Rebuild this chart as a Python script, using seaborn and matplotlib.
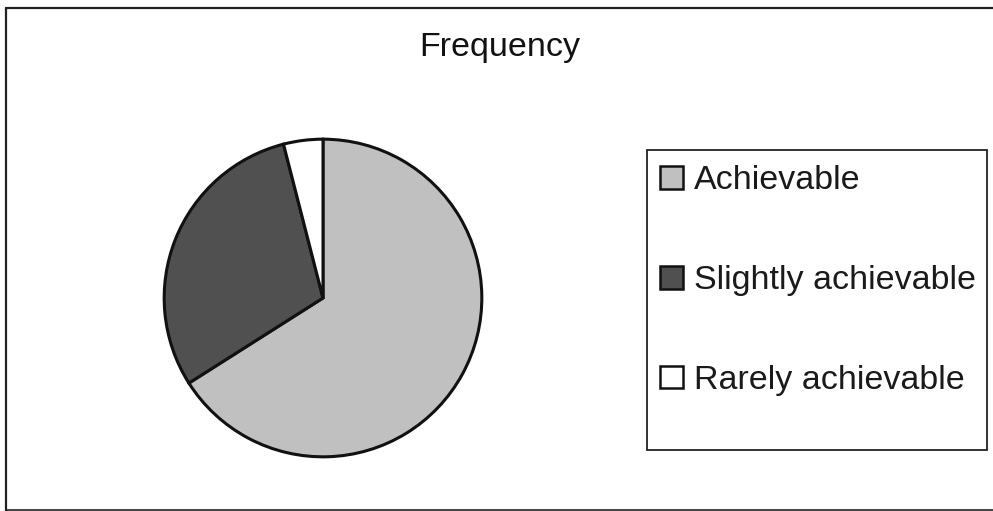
import matplotlib
matplotlib.use("Agg")
import matplotlib.pyplot as plt
from matplotlib.patches import Rectangle
from matplotlib.lines import Line2D
import seaborn as sns

categories = ["Achievable", "Slightly achievable", "Rarely achievable"]
counts = [33, 15, 2]
slice_colors = ["#c0c0c0", "#505050", "#ffffff"]
chart_title = "Frequency"

sns.set_theme(style="white")
plt.rcParams["font.family"] = ["Liberation Sans", "DejaVu Sans"]

W, H = 993, 511
fig = plt.figure(figsize=(W / 100, H / 100), dpi=100)
fig.patch.set_facecolor("white")

# chart frame (left, top and bottom edges)
fig.add_artist(Line2D([6 / W, 6 / W], [0, 1 - 8 / H], transform=fig.transFigure,
                      color="#222222", lw=1.6))
fig.add_artist(Line2D([6 / W, 1], [1 - 8 / H, 1 - 8 / H], transform=fig.transFigure,
                      color="#222222", lw=1.6))
fig.add_artist(Line2D([6 / W, 1], [1 / H, 1 / H], transform=fig.transFigure,
                      color="#222222", lw=1.2))

# pie area
cx, cy, r = 323, 298, 162
ax = fig.add_axes([(cx - r) / W, (H - cy - r) / H, 2 * r / W, 2 * r / H])
wedges, _ = ax.pie(counts, colors=slice_colors, startangle=90, counterclock=False,
                   radius=1.0,
                   wedgeprops=dict(edgecolor="#111111", linewidth=2.2))
ax.set_xlim(-1.02, 1.02)
ax.set_ylim(-1.02, 1.02)
ax.set_axis_off()

fig.text(500 / W, 1 - 47 / H, chart_title, ha="center", va="center",
         fontsize=24.5, color="#111111")

# legend box
lx0, ly0, lx1, ly1 = 647, 150, 987, 450
fig.add_artist(Rectangle((lx0 / W, 1 - ly1 / H), (lx1 - lx0) / W, (ly1 - ly0) / H,
                         transform=fig.transFigure, fill=False,
                         edgecolor="#222222", linewidth=1.3))

leg = fig.legend(wedges, categories, loc="upper left",
                 bbox_to_anchor=(657 / W, 1 - 162 / H),
                 frameon=False, fontsize=24.5, handlelength=0.65, handleheight=0.65,
                 handletextpad=0.33, labelspacing=2.02, borderpad=0.1,
                 borderaxespad=0.0)
for t in leg.get_texts():
    t.set_color("#1a1a1a")
for h in leg.legend_handles:
    h.set_linewidth(1.8)

fig.savefig("out.png", dpi=100, facecolor="white")
